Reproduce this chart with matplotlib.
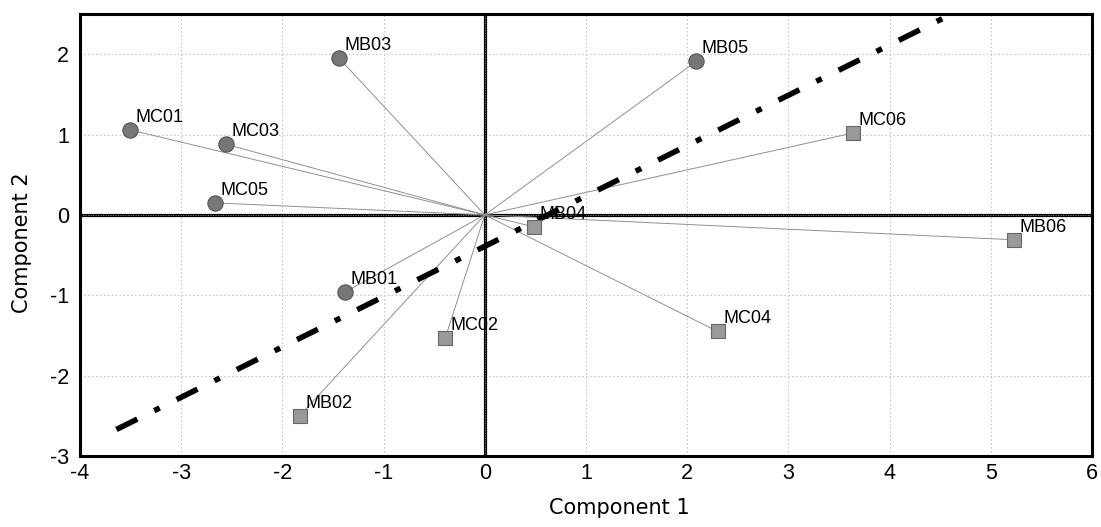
import matplotlib
matplotlib.use("Agg")
import matplotlib.pyplot as plt

plt.rcParams["axes.unicode_minus"] = False
plt.rcParams["font.family"] = ["Liberation Sans", "DejaVu Sans"]

labels = ["MC01", "MC03", "MC05", "MB03", "MB05", "MB01",
          "MC06", "MB04", "MB06", "MC02", "MC04", "MB02"]
comp1 = [-3.51, -2.56, -2.67, -1.44, 2.09, -1.38,
         3.64, 0.49, 5.23, -0.39, 2.30, -1.83]
comp2 = [1.06, 0.88, 0.15, 1.95, 1.91, -0.96,
         1.02, -0.15, -0.31, -1.53, -1.45, -2.50]
markers = ["o", "o", "o", "o", "o", "o",
           "s", "s", "s", "s", "s", "s"]
trend_x = [-3.64, 4.63]
trend_y = [-2.67, 2.51]
xticks = [-4, -3, -2, -1, 0, 1, 2, 3, 4, 5, 6]
yticks = [-3, -2, -1, 0, 1, 2]

fig = plt.figure(figsize=(11.01, 5.27), dpi=100)
ax = fig.add_axes([80/1101, 1 - 456/527, (1092-80)/1101, (456-14)/527])
ax.set_xlim(-4, 6)
ax.set_ylim(-3, 2.5)

ax.grid(True, color="#c8c8c8", linestyle=(0, (1.5, 2)), linewidth=0.8)
ax.set_axisbelow(True)

for fn in (ax.axhline, ax.axvline):
    fn(0, color="black", linewidth=2.3, zorder=2)
    fn(0, color="#8a8a8a", linewidth=0.6, linestyle=(0, (1.5, 1.5)), zorder=2.1)

for x, y in zip(comp1, comp2):
    ax.plot([0, x], [0, y], color="#909090", linewidth=0.7, zorder=3)

ax.plot(trend_x, trend_y, color="black", linewidth=4.0,
        linestyle=(0, (4.2, 3.4, 1.1, 3.4)), zorder=4,
        dash_capstyle="butt")

for x, y, m, lab in zip(comp1, comp2, markers, labels):
    if m == "o":
        ax.plot(x, y, marker="o", markersize=11, color="#777777",
                markeredgecolor="#555555", markeredgewidth=0.8, zorder=5,
                linestyle="none")
    else:
        ax.plot(x, y, marker="s", markersize=10, color="#999999",
                markeredgecolor="#666666", markeredgewidth=0.8, zorder=5,
                linestyle="none")
    ax.annotate(lab, (x, y), xytext=(4, 3), textcoords="offset points",
                fontsize=13, zorder=6, ha="left", va="bottom")

for s in ax.spines.values():
    s.set_linewidth(2.2)
    s.set_color("black")

ax.set_xticks(xticks)
ax.set_yticks(yticks)
ax.tick_params(axis="x", length=0, pad=5, labelsize=15.5)
ax.tick_params(axis="y", length=0, pad=8, labelsize=15.5)

ax.set_xlabel("Component 1", fontsize=15, fontfamily="DejaVu Sans")
ax.set_ylabel("Component 2", fontsize=15, fontfamily="DejaVu Sans")
ax.xaxis.set_label_coords(0.533, -0.118)
ax.yaxis.set_label_coords(-0.057, 0.482)
ax.xaxis.label.set_va("center")
ax.yaxis.label.set_va("center")

fig.savefig("out.png", dpi=100)
